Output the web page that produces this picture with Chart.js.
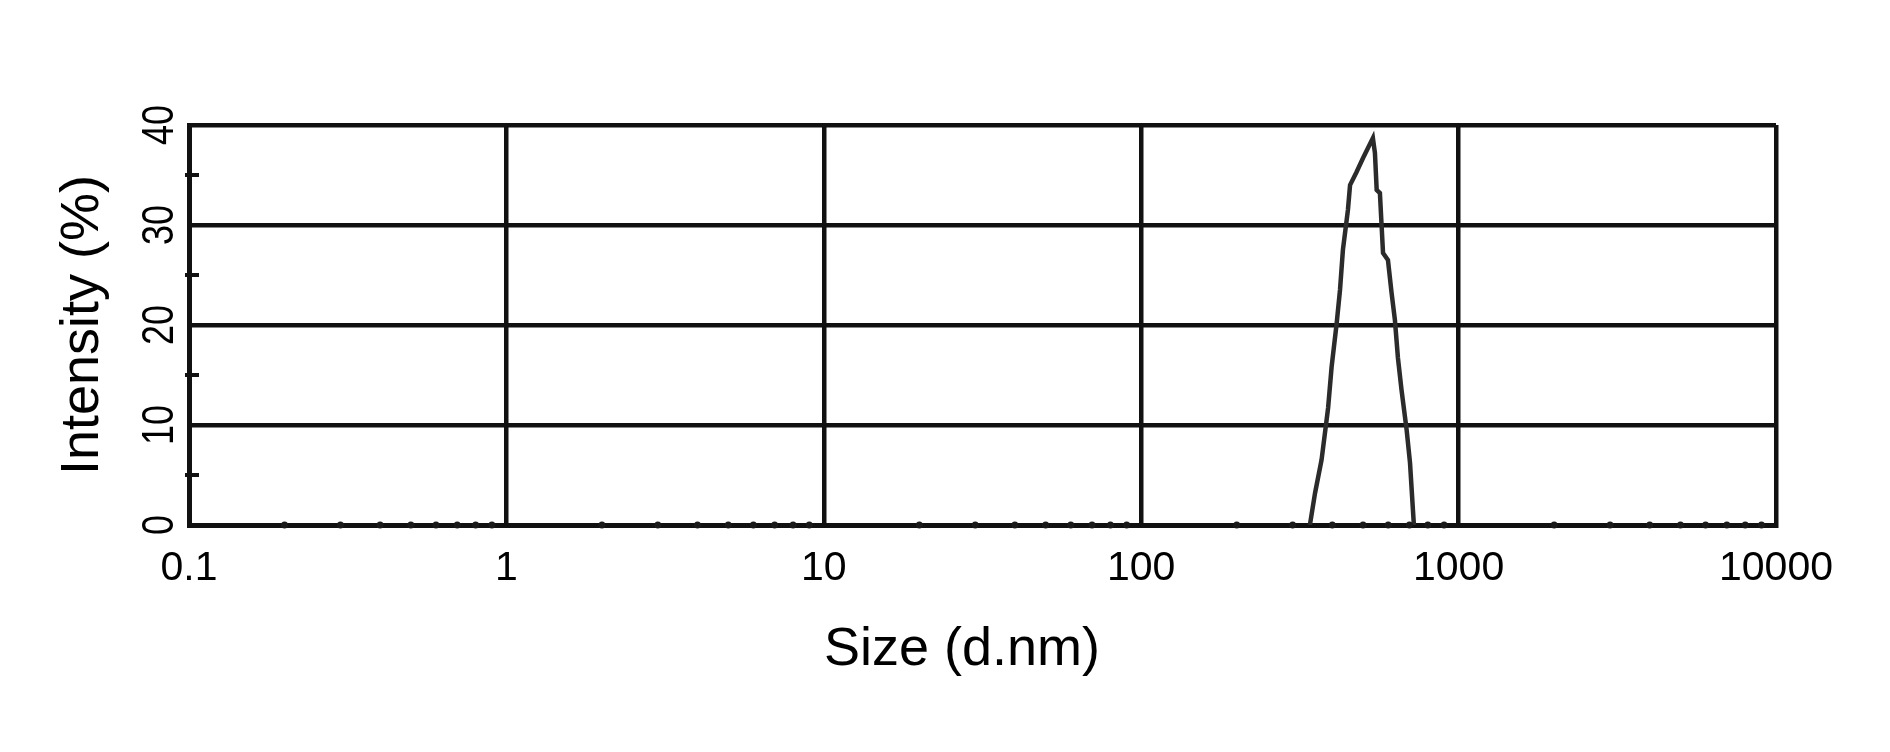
<!DOCTYPE html>
<html>
<head>
<meta charset="utf-8">
<script src="https://cdn.jsdelivr.net/npm/chart.js@4.4.0/dist/chart.umd.min.js"></script>
<style>
  body { margin: 0; background: #fff; }
</style>
</head>
<body>
<canvas id="myChart" width="1890" height="752"></canvas>
<script>
// size distribution (d.nm vs intensity %)
const sizes = [340, 353, 370, 388, 398, 413, 423, 432, 448, 455, 477, 500, 537, 545, 552, 565, 578, 599, 615, 630, 644, 661, 686, 703, 718, 723];
const intensity = [0, 3.2, 6.5, 11.7, 15.8, 20.2, 23.5, 27.5, 31.5, 34, 35.3, 36.7, 38.7, 37.2, 33.5, 33.2, 27.2, 26.5, 23.2, 20.5, 16.7, 13.5, 9.5, 6.2, 1.5, 0];
const xTicks = [0.1, 1, 10, 100, 1000, 10000];
const yTicks = [0, 10, 20, 30, 40];
const yMinorTicks = [5, 15, 25, 35];
const minorFactors = [2, 3, 4, 5, 6, 7, 8, 9];

const FONT = '"Liberation Sans", Arial, sans-serif';

const points = sizes.map((s, i) => ({x: s, y: intensity[i]}));

// little extras the original plot has: dots for minor decades, minor y ticks,
// rotated y labels and the x title
const axisBits = {
  id: 'axisBits',
  afterDraw(chart) {
    const ctx = chart.ctx;
    const xs = chart.scales.x;
    const ys = chart.scales.y;
    const area = chart.chartArea;
    ctx.save();

    ctx.fillStyle = '#1a1a1a';
    xTicks.slice(0, -1).forEach(d => {
      minorFactors.forEach(f => {
        const px = xs.getPixelForValue(d * f);
        ctx.beginPath();
        ctx.arc(px, area.bottom, 3.5, 0, Math.PI * 2);
        ctx.fill();
      });
    });

    ctx.strokeStyle = '#111';
    ctx.lineWidth = 4;
    yMinorTicks.forEach(v => {
      const py = ys.getPixelForValue(v);
      ctx.beginPath();
      ctx.moveTo(area.left - 4, py);
      ctx.lineTo(area.left + 10, py);
      ctx.stroke();
    });

    ctx.fillStyle = '#000';
    ctx.font = '45px ' + FONT;
    ctx.textAlign = 'center';
    ctx.textBaseline = 'alphabetic';
    yTicks.forEach(v => {
      const py = ys.getPixelForValue(v);
      ctx.save();
      ctx.translate(157, py);
      ctx.rotate(-Math.PI / 2);
      ctx.scale(0.8, 1);
      ctx.fillText(String(v), 0, 16);
      ctx.restore();
    });

    ctx.font = '54px ' + FONT;
    ctx.fillText('Size (d.nm)', 962, 665);
    ctx.restore();
  }
};

const ctx = document.getElementById('myChart').getContext('2d');
const myChart = new Chart(ctx, {
  type: 'scatter',
  data: {
    datasets: [{
      label: 'Intensity',
      data: points,
      showLine: true,
      borderColor: '#2b2b2b',
      borderWidth: 4.5,
      pointRadius: 0,
      tension: 0
    }]
  },
  options: {
    responsive: false,
    animation: false,
    devicePixelRatio: 1,
    layout: { padding: { top: 125, right: 114, left: 0, bottom: 0 } },
    plugins: { legend: { display: false }, tooltip: { enabled: false } },
    scales: {
      x: {
        type: 'logarithmic',
        min: 0.1,
        max: 10000,
        afterBuildTicks: scale => { scale.ticks = xTicks.map(v => ({value: v})); },
        afterFit: scale => { scale.height = 227; },
        grid: { color: '#111', lineWidth: 4.5, drawTicks: false },
        border: { color: '#111', width: 5 },
        ticks: {
          autoSkip: false,
          maxRotation: 0,
          padding: 19,
          color: '#000',
          font: { family: FONT, size: 41 },
          callback: v => String(v)
        }
      },
      y: {
        min: 0,
        max: 40,
        afterBuildTicks: scale => { scale.ticks = yTicks.map(v => ({value: v})); },
        afterFit: scale => { scale.width = 189; },
        grid: { color: '#111', lineWidth: 4.5, drawTicks: false },
        border: { color: '#111', width: 5 },
        ticks: { display: false },
        title: {
          display: true,
          text: 'Intensity (%)',
          color: '#000',
          font: { family: FONT, size: 54 },
          padding: { top: 51, bottom: 0 }
        }
      }
    }
  },
  plugins: [axisBits]
});
</script>
</body>
</html>
